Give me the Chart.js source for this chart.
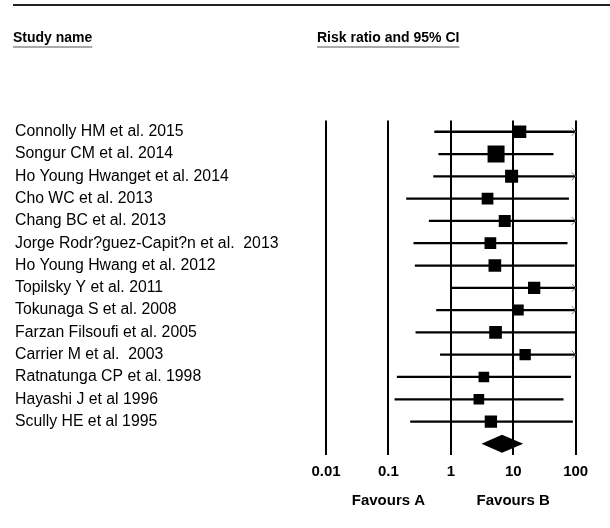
<!DOCTYPE html>
<html>
<head>
<meta charset="utf-8">
<script src="https://cdn.jsdelivr.net/npm/chart.js@4/dist/chart.umd.min.js"></script>
<style>
  html, body { margin: 0; padding: 0; background: #fff; }
  #c { display: block; }
</style>
</head>
<body>
<canvas id="c" width="610" height="528"></canvas>
<script>
const studies = [
  "Connolly HM et al. 2015",
  "Songur CM et al. 2014",
  "Ho Young Hwanget et al. 2014",
  "Cho WC et al. 2013",
  "Chang BC et al. 2013",
  "Jorge Rodr?guez-Capit?n et al.  2013",
  "Ho Young Hwang et al. 2012",
  "Topilsky Y et al. 2011",
  "Tokunaga S et al. 2008",
  "Farzan Filsoufi et al. 2005",
  "Carrier M et al.  2003",
  "Ratnatunga CP et al. 1998",
  "Hayashi J et al 1996",
  "Scully HE et al 1995"
];
const riskRatio = [12.8, 5.3, 9.4, 3.87, 7.3, 4.3, 5.07, 21.6, 12.0, 5.2, 15.5, 3.38, 2.81, 4.38];
const lowerCI   = [0.55, 0.64, 0.53, 0.195, 0.45, 0.255, 0.268, 1.02, 0.59, 0.275, 0.68, 0.138, 0.127, 0.226];
const upperCI   = [298, 43.6, 167, 77, 118, 73, 95, 457, 244, 98, 353, 83, 63, 89];
const weights   = [7.5, 13.5, 7.9, 6.4, 6.7, 6.4, 7.5, 7.1, 5.7, 7.5, 6.0, 5.3, 5.3, 7.1];
const summaryRR = 6.6;
const summaryLow = 3.1;
const summaryHigh = 14.4;
const xTickValues = [0.01, 0.1, 1, 10, 100];
const xTickLabels = ["0.01", "0.1", "1", "10", "100"];
const favourLabels = ["Favours A", "Favours B"];
const favourAt = [0.1, 10];

const FONT = '"Liberation Sans", Arial, Helvetica, sans-serif';
const rowLabels = studies.concat([""]);
const summaryIndex = studies.length;

const boxScale = 17 / Math.sqrt(13.5);
const pointRadii = weights.map(w => Math.sqrt(w) * boxScale / Math.SQRT2);

const forestPlugin = {
  id: 'forest',
  afterDatasetsDraw(chart) {
    const ctx = chart.ctx;
    const xs = chart.scales.x, ys = chart.scales.y;
    const xmax = xs.max;
    ctx.save();
    ctx.strokeStyle = '#777';
    ctx.lineWidth = 1;
    upperCI.forEach((u, i) => {
      if (u > xmax) {
        const px = xs.getPixelForValue(xmax);
        const py = ys.getPixelForValue(i);
        ctx.beginPath();
        ctx.moveTo(px - 4, py - 4);
        ctx.lineTo(px, py);
        ctx.lineTo(px - 4, py + 4);
        ctx.stroke();
      }
    });
    const cy = ys.getPixelForValue(summaryIndex);
    const xl = xs.getPixelForValue(summaryLow);
    const xc = xs.getPixelForValue(summaryRR);
    const xr = xs.getPixelForValue(summaryHigh);
    ctx.fillStyle = '#000';
    ctx.beginPath();
    ctx.moveTo(xl, cy);
    ctx.lineTo(xc, cy - 9);
    ctx.lineTo(xr, cy);
    ctx.lineTo(xc, cy + 9);
    ctx.closePath();
    ctx.fill();
    ctx.restore();
  },
  afterDraw(chart) {
    const ctx = chart.ctx;
    const xs = chart.scales.x;
    ctx.save();
    ctx.strokeStyle = '#222';
    ctx.lineWidth = 2;
    ctx.beginPath();
    ctx.moveTo(13, 5);
    ctx.lineTo(610, 5);
    ctx.stroke();
    ctx.fillStyle = '#000';
    ctx.font = 'bold 14px ' + FONT;
    ctx.textBaseline = 'middle';
    ctx.textAlign = 'left';
    const heads = [["Study name", 13], ["Risk ratio and 95% CI", 317]];
    ctx.strokeStyle = '#555';
    ctx.lineWidth = 1.2;
    heads.forEach(([t, x]) => {
      ctx.fillText(t, x, 38);
      const w = ctx.measureText(t).width;
      ctx.beginPath();
      ctx.moveTo(x, 47);
      ctx.lineTo(x + w, 47);
      ctx.stroke();
    });
    ctx.textAlign = 'center';
    ctx.font = 'bold 15px ' + FONT;
    favourLabels.forEach((t, i) => {
      ctx.fillText(t, xs.getPixelForValue(favourAt[i]), 501);
    });
    ctx.restore();
  }
};

new Chart(document.getElementById('c'), {
  data: {
    labels: rowLabels,
    datasets: [
      {
        type: 'bar',
        indexAxis: 'y',
        data: studies.map((s, i) => [lowerCI[i], upperCI[i]]),
        backgroundColor: '#000',
        borderWidth: 0,
        barThickness: 1.6,
        xAxisID: 'x',
        yAxisID: 'y'
      },
      {
        type: 'scatter',
        data: studies.map((s, i) => ({ x: riskRatio[i], y: i })),
        pointStyle: 'rect',
        pointRadius: pointRadii,
        pointBackgroundColor: '#000',
        pointBorderWidth: 0,
        showLine: false,
        xAxisID: 'x',
        yAxisID: 'y'
      }
    ]
  },
  options: {
    responsive: false,
    devicePixelRatio: 1,
    animation: false,
    events: [],
    layout: { padding: { left: 15, right: 34.3, top: 120.6, bottom: 40 } },
    plugins: { legend: { display: false }, tooltip: { enabled: false } },
    scales: {
      x: {
        type: 'logarithmic',
        min: 0.01,
        max: 100,
        afterBuildTicks: s => { s.ticks = xTickValues.map(v => ({ value: v, major: true })); },
        ticks: {
          autoSkip: false,
          maxRotation: 0,
          padding: 7.5,
          color: '#000',
          font: { family: FONT, size: 15, weight: 'bold' },
          callback: (v) => { const k = xTickValues.indexOf(v); return k >= 0 ? xTickLabels[k] : ''; }
        },
        grid: { color: '#000', lineWidth: 2, drawTicks: false, drawOnChartArea: true },
        border: { display: false }
      },
      y: {
        type: 'category',
        offset: true,
        afterFit: s => { s.width = 311; },
        ticks: {
          autoSkip: false,
          crossAlign: 'far',
          padding: 0,
          color: '#000',
          font: { family: FONT, size: 15.8 }
        },
        grid: { display: false },
        border: { display: false }
      }
    }
  },
  plugins: [forestPlugin]
});
</script>
</body>
</html>
